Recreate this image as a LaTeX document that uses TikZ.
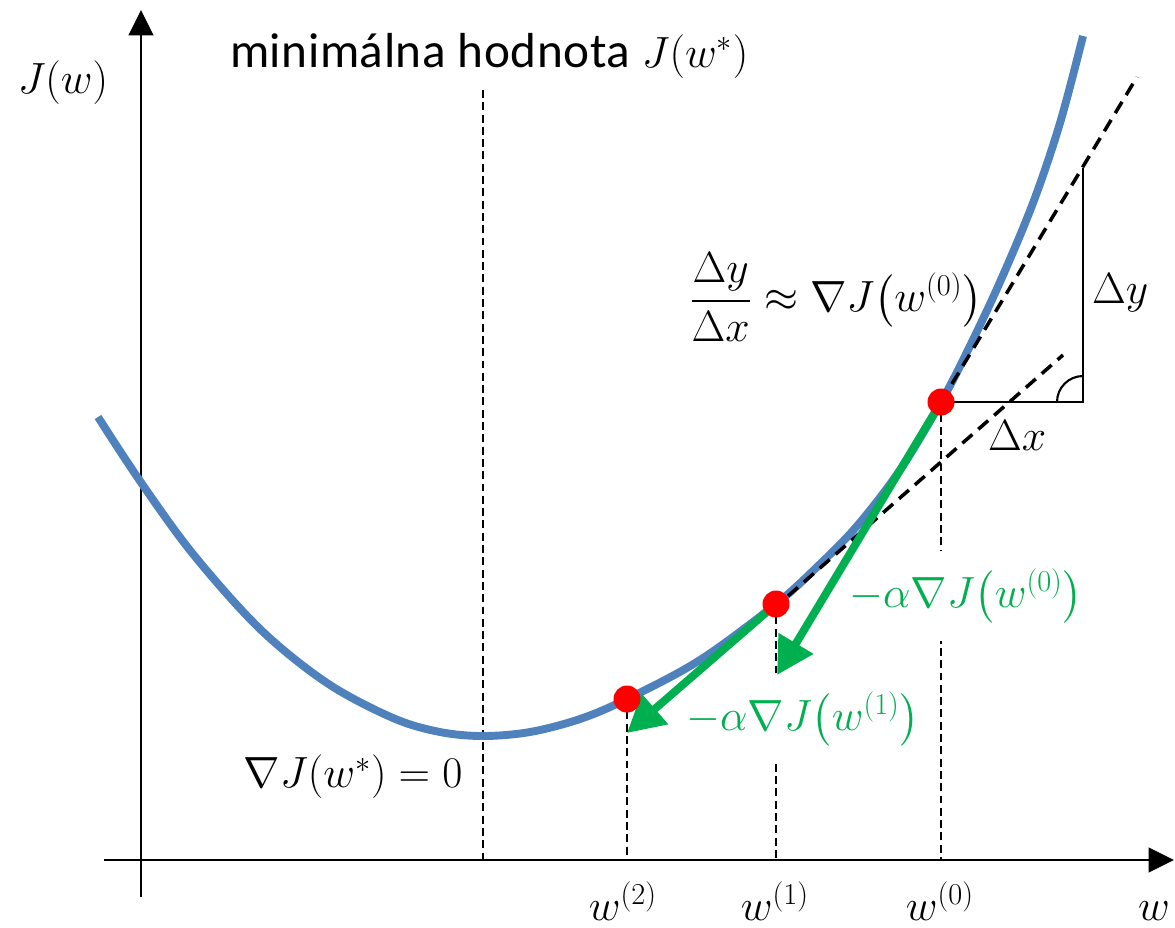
\documentclass[tikz,border=0pt]{standalone}
\usepackage{amsmath}
\usepackage[no-math]{fontspec}
\setmainfont{Carlito}[LetterSpace=1.2]
\usetikzlibrary{arrows.meta}
\definecolor{curveblue}{HTML}{4F81BD}
\definecolor{stepgreen}{HTML}{00B050}
\tikzset{
  axisline/.style={line width=1.6pt, -{Triangle[length=14.5pt,width=14pt]}},
  thindash/.style={line width=1.1pt, dash pattern=on 4.5pt off 2.5pt},
  tangentdash/.style={line width=2pt, dash pattern=on 7.5pt off 4.5pt},
  triline/.style={line width=1.4pt},
  cost/.style={curveblue, line width=4.5pt},
  steparrow/.style={stepgreen, line width=4.5pt, -{Triangle[length=21pt,width=22pt]}},
  dot/.style={circle, fill=red, inner sep=0pt, minimum size=0.54cm},
  lbl/.style={inner sep=1pt, font=\fontsize{25}{30}\selectfont},
  textlbl/.style={inner sep=1pt, font=\fontsize{28}{32}\selectfont},
  greenlbl/.style={lbl, text=stepgreen, fill=white, inner xsep=2pt}
}
\begin{document}
\begin{tikzpicture}[x=0.02cm, y=-0.02cm]
\useasboundingbox (0,0) rectangle (1175,927);
% axes
\coordinate (yb) at (141,897);
\coordinate (yt) at (141,10);
\coordinate (xl) at (104,860);
\coordinate (xr) at (1174,860);
\draw[axisline] (yb) -- (yt);
\draw[axisline] (xl) -- (xr);
% points on curve
\coordinate (m) at (483,736);
\coordinate (c2) at (627,699);
\coordinate (c1) at (776,604);
\coordinate (c0) at (941,402);
% dashed verticals
\coordinate (mtop) at (483,90);
\coordinate (mx) at (483,860);
\coordinate (x2) at (627,860);
\coordinate (x1) at (776,860);
\coordinate (x0) at (941,860);
\draw[thindash] (mtop) -- (mx);
\draw[thindash] (c2) -- (x2);
\draw[thindash] (c1) -- (x1);
\draw[thindash] (c0) -- (x0);
% green labels (white background hides the dashed lines)
\node[greenlbl, minimum height=1.8cm] (g0) at (966,596) {$-\alpha\nabla J\big(w^{(0)}\big)$};
\node[greenlbl, minimum height=1.76cm] (g1) at (803,719) {$-\alpha\nabla J\big(w^{(1)}\big)$};
% cost curve
\draw[cost] plot[smooth, tension=0.55] coordinates {
  (98,417) (140,481) (193,554) (260,629) (327,683) (393,718) (440,732)
  (483,736) (530,732) (580,719) (627,699) (700,660) (776,604) (818,566)
  (857,526) (900,470) (941,402) (967,352) (1000,282) (1033,203) (1060,123) (1083,36)};
% tangent lines
\coordinate (ta) at (1137,77);
\coordinate (tb1) at (788,596);
\coordinate (tb2) at (1063,355);
\draw[tangentdash] (c0) -- (ta);
\draw[tangentdash] (tb1) -- (tb2);
% triangle
\coordinate (corner) at (1083,402);
\coordinate (vtop) at (1083,168);
\draw[triline] (c0) -- (corner) -- (vtop);
\draw[line width=1.2pt] (1057,402) arc[start angle=180, end angle=90, radius=0.52cm];
% green step arrows
\coordinate (t0) at (777,675);
\coordinate (t1) at (627,733);
\draw[steparrow] (c0) -- (t0);
\draw[steparrow] (c1) -- (t1);
% dots
\node[dot] (p0) at (c0) {};
\node[dot] (p1) at (c1) {};
\node[dot] (p2) at (c2) {};
% labels
\node[lbl] (jw) at (63,83) {$J(w)$};
\node[textlbl, anchor=base west] (minlbl) at (228,67) {minimálna hodnota \fontsize{25}{30}\selectfont$J(w^{*})$};
\node[lbl] (grad0) at (353,777) {$\nabla J(w^{*})=0$};
\node[lbl] (ratio) at (836,297) {$\dfrac{\Delta y}{\Delta x}\approx\nabla J\big(w^{(0)}\big)$};
\node[lbl, anchor=base west] (dy) at (1090,303) {$\Delta y$};
\node[lbl, anchor=base west] (dx) at (986,450) {$\Delta x$};
\node[lbl, anchor=base] (w2) at (623,920) {$w^{(2)}$};
\node[lbl, anchor=base] (w1) at (775,920) {$w^{(1)}$};
\node[lbl, anchor=base] (w0) at (940,920) {$w^{(0)}$};
\node[lbl, anchor=base] (wax) at (1154,920) {$w$};
\end{tikzpicture}
\end{document}
